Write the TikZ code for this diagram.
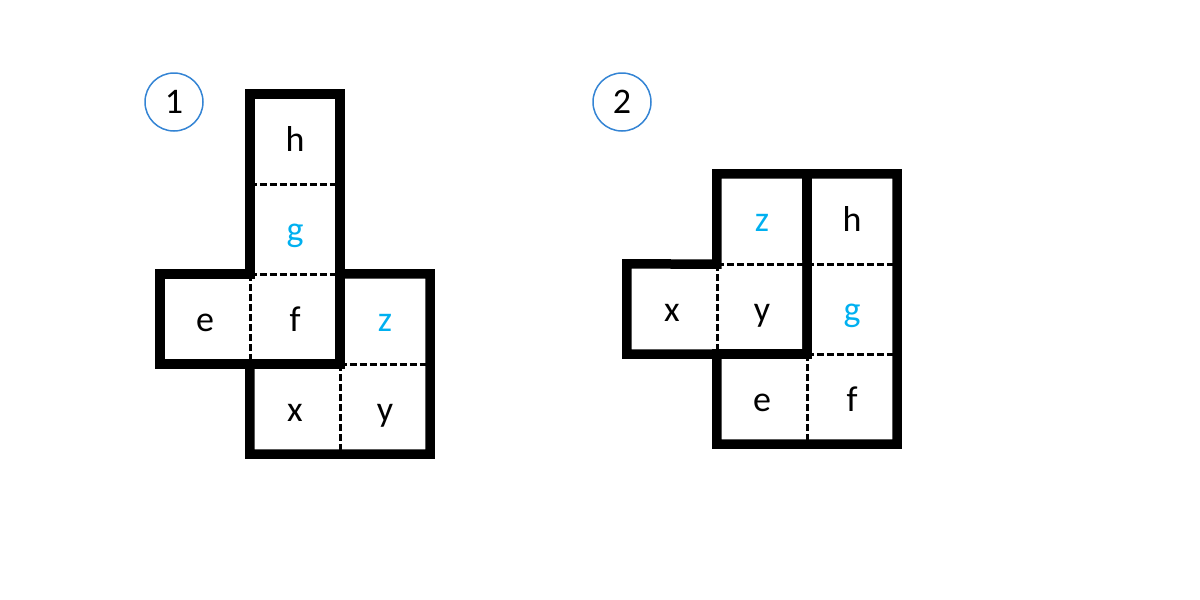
\documentclass[tikz,border=0pt]{standalone}
\usepackage{fontspec}
\setmainfont{Carlito}
\definecolor{numblue}{RGB}{52,132,212}
\definecolor{letterblue}{RGB}{0,176,240}
\newcommand{\bluelabel}[1]{{\color{letterblue}#1}}

\begin{document}
\begin{tikzpicture}[x=1pt, y=-1pt]
		\tikzstyle{every node}=[font=\fontsize{36}{40}\selectfont, inner sep=0pt]
		\tikzstyle{cell}=[minimum size=90pt, text height=27pt, text depth=3pt]
		\tikzstyle{number}=[circle, draw=numblue, line width=1.5pt, minimum size=58pt]
		\tikzstyle{fold}=[line width=3pt, dash pattern=on 7pt off 3pt]
		\tikzstyle{piece}=[line width=9.5pt, line join=miter]
    \def\s{90}

		\useasboundingbox (0,0) rectangle (1200,600);

		% net 1
		\node[number] (n1) at (174,102) {1};
		\node[cell] (h1) at (295,139) {h};
		\node[cell] (g1) at (295,139+\s) {\bluelabel{g}};
		\node[cell] (f1) at (295,139+2*\s) {f};
		\node[cell] (e1) at (295-\s,139+2*\s) {e};
		\node[cell] (z1) at (295+\s,139+2*\s) {\bluelabel{z}};
		\node[cell] (x1) at (295,139+3*\s) {x};
		\node[cell] (y1) at (295+\s,139+3*\s) {y};

		\draw[fold] (h1.south west) -- (h1.south east);
		\draw[fold] (g1.south west) -- (g1.south east);
		\draw[fold] (e1.north east) -- (e1.south east);
		\draw[fold] (x1.north east) -- (x1.south east);
		\draw[fold] (z1.south west) -- (z1.south east);

		\draw[piece] (h1.north west) -- (h1.north east) -- (f1.south east)
			-- (e1.south west) -- (e1.north west) -- (f1.north west) -- cycle;
		\draw[piece] (z1.north west) -- (z1.north east) -- (y1.south east)
			-- (x1.south west) -- (x1.north west) -- (x1.north east) -- cycle;

		% net 2
		\node[number] (n2) at (622,102) {2};
		\node[cell] (z2) at (762,219) {\bluelabel{z}};
		\node[cell] (h2) at (762+\s,219) {h};
		\node[cell] (x2) at (762-\s,219+\s) {x};
		\node[cell] (y2) at (762,219+\s) {y};
		\node[cell] (g2) at (762+\s,219+\s) {\bluelabel{g}};
		\node[cell] (e2) at (762,219+2*\s) {e};
		\node[cell] (f2) at (762+\s,219+2*\s) {f};

		\draw[fold] (z2.south west) -- (z2.south east);
		\draw[fold] (x2.north east) -- (x2.south east);
		\draw[fold] (h2.south west) -- (h2.south east);
		\draw[fold] (g2.south west) -- (g2.south east);
		\draw[fold] (e2.north east) -- (e2.south east);

		\draw[piece] (z2.north west) -- (z2.north east) -- (y2.south east)
			-- (x2.south west) -- (x2.north west) -- (z2.south west) -- cycle;
		\draw[piece] (h2.north west) -- (h2.north east) -- (f2.south east)
			-- (e2.south west) -- (e2.north west) -- (e2.north east) -- cycle;
	\end{tikzpicture}
\end{document}
